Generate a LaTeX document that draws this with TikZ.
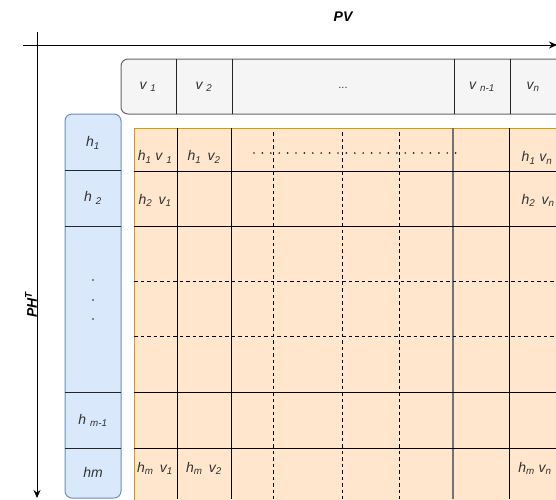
\documentclass[tikz,border=0pt]{standalone}
\usepackage{fontspec}
\setmainfont{Liberation Sans}
\usetikzlibrary{arrows.meta}
\definecolor{vfill}{HTML}{F5F5F5}
\definecolor{vline}{HTML}{666666}
\definecolor{hfill}{HTML}{DAE8FC}
\definecolor{hline}{HTML}{6C8EBF}
\definecolor{gfill}{HTML}{FFE6CC}
\definecolor{gline}{HTML}{D79B00}
\newcommand\lo[1]{\textsubscript{#1}}
\begin{document}
\begin{tikzpicture}[x=1pt,y=-1pt,
  lbl/.style={font=\fontsize{14}{15}\selectfont\itshape, text=black!80, inner sep=0pt},
  axislbl/.style={font=\fontsize{14}{15}\selectfont\bfseries\itshape, inner sep=0pt},
  gridline/.style={black, line width=1pt},
  dashline/.style={black, line width=1pt, dash pattern=on 3.5pt off 3pt},
  dotmark/.style={fill=black!85},
  axis/.style={black, line width=1pt, -{Stealth[length=8pt,width=7pt]}}]
\useasboundingbox (0,0) rectangle (556,499);
\clip (0,0) rectangle (556,499);

% axes
\coordinate (xs) at (23,45);
\coordinate (xe) at (557,45);
\coordinate (ys) at (37,32);
\coordinate (ye) at (37,498);
\draw[axis] (xs) -- (xe);
\draw[axis] (ys) -- (ye);
\node[axislbl] (pv) at (343,17) {PV};
\node[axislbl, rotate=90] (pht) at (31,305) {PH\textsuperscript{T}};

% row vector v
\draw[vline, fill=vfill, rounded corners=7pt, line width=1pt] (121,59) rectangle (620,114);
\foreach \x in {176,232,454,510} \draw[black!85, line width=1pt] (\x,59) -- (\x,114);
\node[lbl] (v1) at (148,87) {v \lo{1}};
\node[lbl] (v2) at (204,87) {v \lo{2}};
\node[lbl, font=\fontsize{11}{12}\selectfont] (vdots) at (343,88) {...};
\node[lbl] (vn1) at (482,87) {v \lo{n-1}};
\node[lbl] (vn) at (533,87) {v\lo{n}};

% column vector h
\draw[hline, fill=hfill, rounded corners=7pt, line width=1pt] (65,114) rectangle (121,498);
\foreach \y in {170,226,392,448} \draw[black!85, line width=1pt] (65,\y) -- (121,\y);
\node[lbl] (h1) at (93,143) {h\lo{1}};
\node[lbl] (h2) at (93,198) {h \lo{2}};
\foreach \y/\n in {280/a,300/b,319/c} \fill[black!60] (93,\y) circle (1.1pt) coordinate (hd\n);
\node[lbl] (hm1) at (93,420) {h \lo{m-1}};
\node[lbl] (hm) at (93,472) {hm};

% product grid
\draw[gline, fill=gfill, line width=1pt] (134,128) rectangle (620,560);
\foreach \x in {177,231,509} \draw[gridline] (\x,128) -- (\x,499);
\draw[black!55, line width=1.8pt] (453,128) -- (453,499);
\foreach \y in {171,226,392,448} \draw[gridline] (134,\y) -- (556,\y);
\foreach \x in {273,342,399} \draw[dashline] (\x,132) -- (\x,499);
\foreach \y in {281,336} \draw[dashline] (134,\y) -- (556,\y);
% dotted ellipsis along the first row
\foreach \i in {0,...,24} \fill[dotmark] (254+8.4*\i,153) circle (0.95pt);

\node[lbl] (c11) at (155,157) {h\lo{1} v \lo{1}};
\node[lbl] (c12) at (204,157) {h\lo{1}\, v\lo{2}};
\node[lbl] (c1n) at (537,158) {h\lo{1} v\lo{n}};
\node[lbl] (c21) at (155,200) {h\lo{2}\, v\lo{1}};
\node[lbl] (c2n) at (538,200) {h\lo{2}\, v\lo{n}};
\node[lbl] (cm1) at (155,468) {h\lo{m}\, v\lo{1}};
\node[lbl] (cm2) at (204,468) {h\lo{m}\, v\lo{2}};
\node[lbl] (cmn) at (535,468) {h\lo{m} v\lo{n}};
\end{tikzpicture}
\end{document}
